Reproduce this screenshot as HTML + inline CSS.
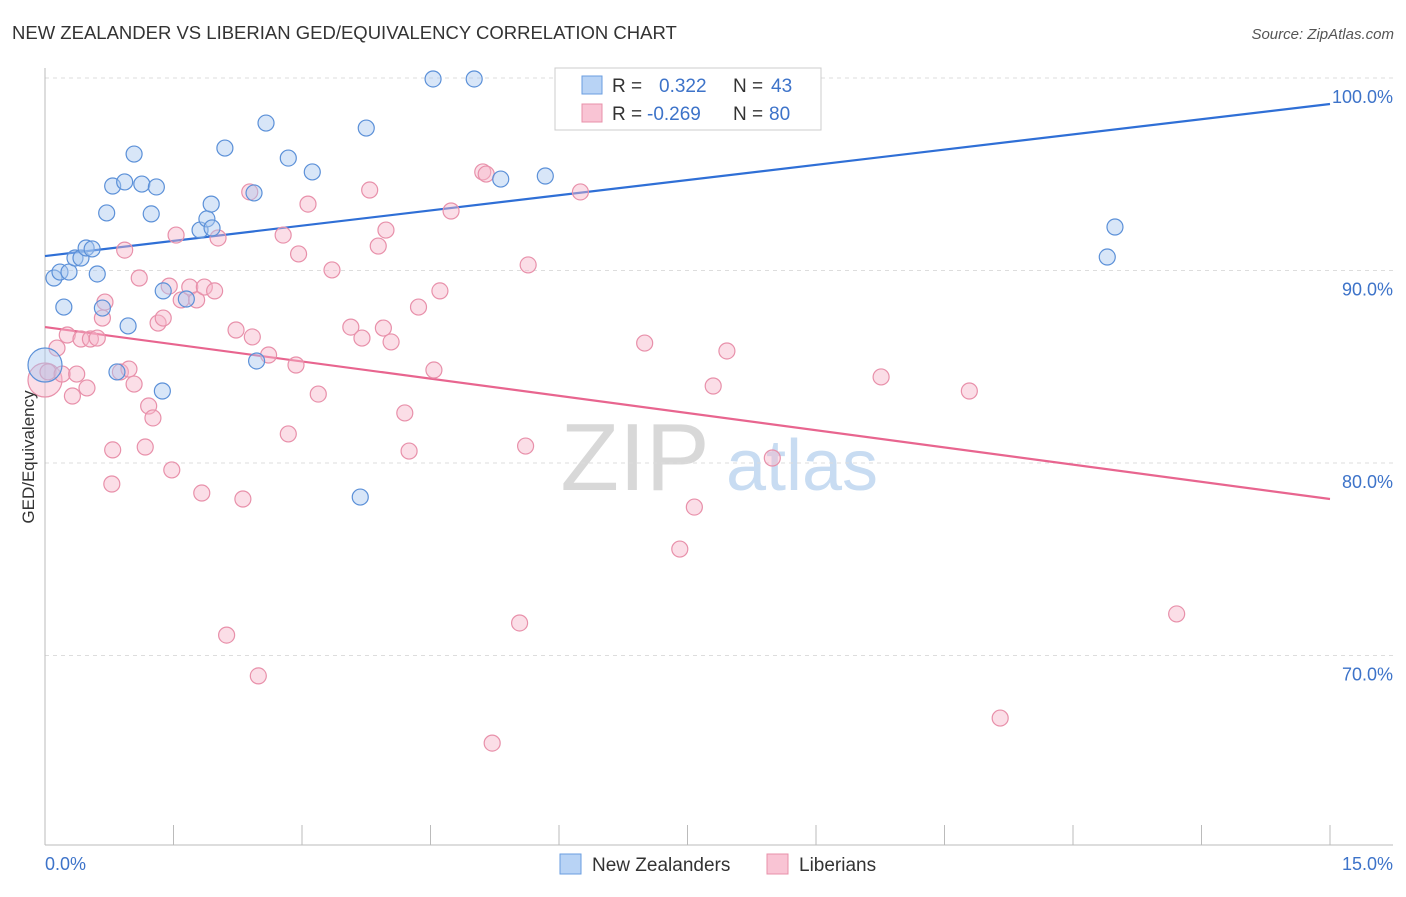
<!DOCTYPE html>
<html><head><meta charset="utf-8">
<style>
body{margin:0;background:#fff;font-family:"Liberation Sans",sans-serif;}
svg text{font-family:"Liberation Sans",sans-serif;}
</style></head>
<body>
<svg id="chart" width="1406" height="892" viewBox="0 0 1406 892">
<text x="12" y="39" font-size="18.5" fill="#333">NEW ZEALANDER VS LIBERIAN GED/EQUIVALENCY CORRELATION CHART</text>
<text x="1394" y="39" font-size="15" fill="#555" font-style="italic" text-anchor="end">Source: ZipAtlas.com</text>
<g>
<text x="635" y="490" font-size="96" font-family="Liberation Serif" fill="#d8d8d8" text-anchor="middle">ZIP</text>
<text x="802" y="490" font-size="72" fill="#c8dcf2" text-anchor="middle">atlas</text>
</g>
<g id="grid"></g>
<g id="axes"></g>
<g id="lines"></g>
<g id="points"></g>
<text transform="translate(34,457) rotate(-90)" font-size="17" fill="#333" text-anchor="middle">GED/Equivalency</text>
<g>
<rect x="555" y="68" width="266" height="62" fill="#fff" stroke="#ccc"/>
<rect x="582" y="76" width="20" height="18" fill="#b8d3f5" stroke="#6a9ee0"/>
<text x="612" y="92" font-size="19" fill="#333">R =</text><text x="659" y="92" font-size="19" fill="#3d73c9">0.322</text>
<text x="733" y="92" font-size="19" fill="#333">N =</text><text x="771" y="92" font-size="19" fill="#3d73c9">43</text>
<rect x="582" y="104" width="20" height="18" fill="#f9c4d4" stroke="#e890aa"/>
<text x="612" y="120" font-size="19" fill="#333">R =</text><text x="647" y="120" font-size="19" fill="#3d73c9">-0.269</text>
<text x="733" y="120" font-size="19" fill="#333">N =</text><text x="769" y="120" font-size="19" fill="#3d73c9">80</text>
</g>
<g>
<rect x="560" y="854" width="21" height="20" fill="#b8d3f5" stroke="#6a9ee0"/>
<text x="592" y="871" font-size="19" fill="#333">New Zealanders</text>
<rect x="767" y="854" width="21" height="20" fill="#f9c4d4" stroke="#e890aa"/>
<text x="799" y="871" font-size="19" fill="#333">Liberians</text>
</g>
</svg>
<script>
const yTicks=[100,90,80,70];
const yTickLabels=["100.0%","90.0%","80.0%","70.0%"];
const xTickLabels=["0.0%","15.0%"];
const blueX=[0,0.105,0.175,0.28,0.22,0.35,0.42,0.48,0.55,0.61,0.67,0.72,0.79,0.93,0.97,0.84,1.04,1.13,1.24,1.30,1.37,1.38,1.65,1.81,1.89,1.94,1.95,2.10,2.44,2.47,2.58,2.84,3.12,3.68,3.75,4.53,5.01,5.32,5.84,6.97,7.68,12.40,12.49];
const blueY=[85.09,89.61,89.92,89.92,88.10,90.65,90.65,91.17,91.12,89.82,88.05,92.99,94.39,94.60,87.12,84.73,96.05,94.49,92.94,94.34,83.74,88.94,88.52,92.10,92.68,93.45,92.21,96.36,94.03,85.30,97.66,95.84,95.12,78.23,97.40,99.95,99.95,94.75,94.91,99.95,99.95,90.70,92.26];
const pinkX=[0,0.035,0.14,0.20,0.26,0.32,0.37,0.42,0.49,0.53,0.61,0.67,0.70,0.78,0.79,0.88,0.93,0.98,1.04,1.10,1.17,1.21,1.26,1.32,1.38,1.45,1.48,1.53,1.59,1.69,1.77,1.86,1.83,1.98,2.02,2.12,2.23,2.31,2.39,2.42,2.49,2.61,2.78,2.84,2.93,2.96,3.07,3.19,3.35,3.57,3.70,3.79,3.89,3.95,3.98,4.04,4.20,4.25,4.36,4.54,4.61,4.74,5.11,5.15,5.22,5.54,5.61,5.64,6.25,7.00,7.41,7.58,7.80,7.96,8.49,9.76,10.79,11.15,13.21];
const pinkY=[84.31,84.73,85.97,84.62,86.65,83.48,84.62,86.44,83.90,86.44,86.49,87.53,88.36,78.91,80.68,84.73,91.06,84.88,84.10,89.61,80.83,82.96,82.34,87.27,87.53,89.19,79.64,91.84,88.47,89.14,88.47,89.14,78.44,88.94,91.69,71.06,86.91,78.13,94.08,86.55,68.94,85.61,91.84,81.51,85.09,90.86,93.45,83.58,90.03,87.06,86.49,94.18,91.27,87.01,92.10,86.29,82.60,80.62,88.10,84.83,88.94,93.09,95.12,95.01,65.45,71.69,80.88,90.29,94.08,86.23,75.53,77.71,84.00,85.82,80.26,84.47,83.74,66.75,72.16];
const blueTrend=[90.75,98.65];
const pinkTrend=[87.06,78.13];
const NS="http://www.w3.org/2000/svg";
const xs=v=>45+v/15*1285;
const ys=v=>78+(100-v)*19.25;
function mk(tag,attrs,parent){const e=document.createElementNS(NS,tag);for(const k in attrs)e.setAttribute(k,attrs[k]);parent.appendChild(e);return e;}
const grid=document.getElementById('grid'),axes=document.getElementById('axes');
yTicks.forEach((t,i)=>{
 const l=mk('line',{x1:45,x2:1393,y1:ys(t),y2:ys(t),stroke:'#ddd','stroke-dasharray':'4,4'},grid);
 
 
 const tx=mk('text',{x:1393,y:ys(t)+25,'font-size':18,fill:'#3d73c9','text-anchor':'end'},grid);
 tx.textContent=yTickLabels[i];
 
 
});
const ya=mk('line',{x1:45,x2:45,y1:68,y2:845,stroke:'#bbb'},axes);


const xa=mk('line',{x1:45,x2:1393,y1:845,y2:845,stroke:'#bbb'},axes);


for(let i=0;i<=10;i++){
 const t=mk('line',{x1:xs(i*1.5),x2:xs(i*1.5),y1:825,y2:845,stroke:'#bbb'},axes);
 
 
}
[[0,'start',45],[15,'end',1393]].forEach((d,i)=>{
 const t=mk('text',{x:d[2],y:870,'font-size':18,fill:'#3d73c9','text-anchor':d[1]},axes);
 t.textContent=xTickLabels[i];
 
 
});
const pts=document.getElementById('points');
function drawPts(X,Y,fill,stroke,name){
 X.forEach((x,i)=>{
  const r=i===0?17:8;
  const c=mk('circle',{cx:xs(x),cy:ys(Y[i]),r:r,fill:fill,'fill-opacity':0.45,stroke:stroke,'stroke-width':1.2},pts);
  
  
 });
}
drawPts(pinkX,pinkY,'#f7b5ca','#e890aa','point-liberian');
drawPts(blueX,blueY,'#a9c8f0','#5b90d8','point-new-zealander');
const lines=document.getElementById('lines');
const bl=mk('line',{x1:xs(0),x2:xs(15),y1:ys(blueTrend[0]),y2:ys(blueTrend[1]),stroke:'#2f6fd6','stroke-width':2.2},lines);


const pl=mk('line',{x1:xs(0),x2:xs(15),y1:ys(pinkTrend[0]),y2:ys(pinkTrend[1]),stroke:'#e8658f','stroke-width':2.2},lines);


</script>
</body></html>
